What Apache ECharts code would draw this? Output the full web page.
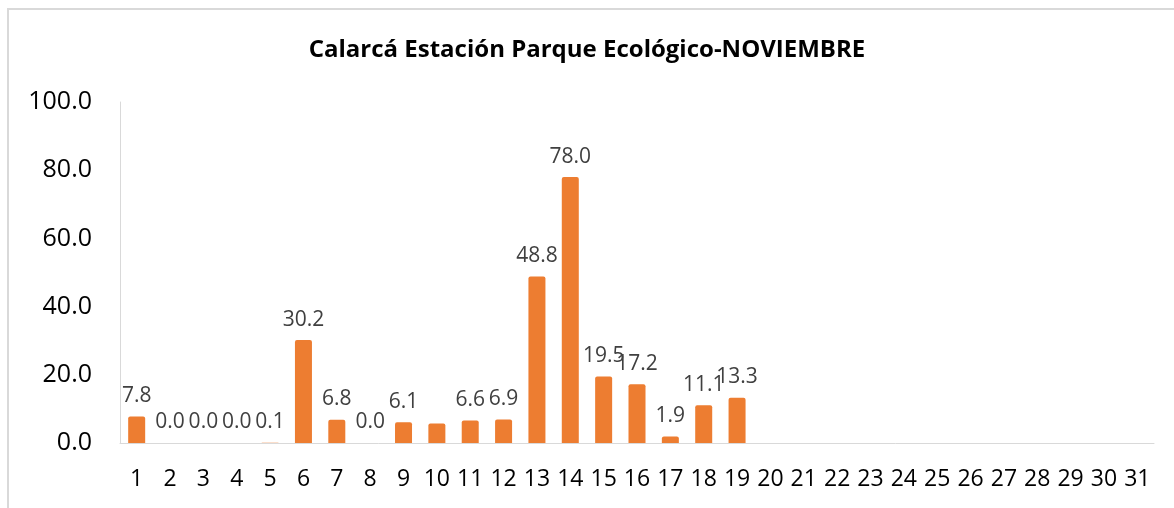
<!DOCTYPE html>
<html lang="es">
<head>
    <meta charset="UTF-8">
    <title>Calarcá Estación Parque Ecológico-NOVIEMBRE</title>
    <script src="https://cdn.jsdelivr.net/npm/echarts@6/dist/echarts.min.js"></script>
    <style>
        html, body { margin: 0; padding: 0; background: #fff; }
    </style>
</head>
<body>
<div id="main" style="width: 1174px; height: 508px"></div>
</body>
<script>
    // dias del mes
    let dias = [];
    for (let i = 1; i <= 31; i++) {
        dias.push(String(i));
    }
    // precipitacion diaria (mm), null = sin dato
    let lluvia = [7.8, 0.0, 0.0, 0.0, 0.1, 30.2, 6.8, 0.0, 6.1, 5.7,
        6.6, 6.9, 48.8, 78.0, 19.5, 17.2, 1.9, 11.1, 13.3,
        null, null, null, null, null, null, null, null, null, null, null, null];
    // dias cuya etiqueta no aparece
    let sinEtiqueta = ['10'];

    let myChart = echarts.init(document.getElementById('main'));
    let option = {
        backgroundColor: '#fff',
        animation: false,
        title: {
            text: 'Calarcá Estación Parque Ecológico-NOVIEMBRE',
            left: 'center',
            top: 33,
            textStyle: {
                fontFamily: '"Open Sans", sans-serif',
                fontSize: 24,
                fontWeight: 'bold',
                color: '#000'
            }
        },
        graphic: [{
            type: 'rect',
            shape: { x: 8, y: 9, width: 1300, height: 700 },
            style: { fill: 'none', stroke: '#d9d9d9', lineWidth: 2 },
            silent: true
        }],
        grid: {
            left: 120,
            right: 20,
            top: 102,
            bottom: 65
        },
        xAxis: {
            type: 'category',
            data: dias,
            axisTick: { show: false },
            axisLine: { lineStyle: { color: '#d9d9d9', width: 1 } },
            axisLabel: {
                interval: 0,
                margin: 25,
                fontFamily: '"Open Sans", sans-serif',
                fontSize: 23,
                color: '#000'
            }
        },
        yAxis: {
            type: 'value',
            min: 0,
            max: 100,
            interval: 20,
            splitLine: { show: false },
            axisTick: { show: false },
            axisLine: { show: true, lineStyle: { color: '#d9d9d9', width: 1 } },
            axisLabel: {
                margin: 28,
                fontFamily: '"Open Sans", sans-serif',
                fontSize: 25,
                color: '#000',
                formatter: function (v) { return v.toFixed(1); }
            }
        },
        series: [{
            type: 'bar',
            data: lluvia,
            barWidth: 17,
            itemStyle: { color: '#ED7D31', borderRadius: [2, 2, 0, 0] },
            label: {
                show: true,
                position: 'top',
                distance: 10,
                fontFamily: '"Open Sans", sans-serif',
                fontSize: 21,
                color: '#404040',
                formatter: function (p) {
                    if (p.value == null || sinEtiqueta.indexOf(p.name) >= 0) return '';
                    return p.value.toFixed(1);
                }
            }
        }]
    };
    myChart.setOption(option);
</script>
</html>
